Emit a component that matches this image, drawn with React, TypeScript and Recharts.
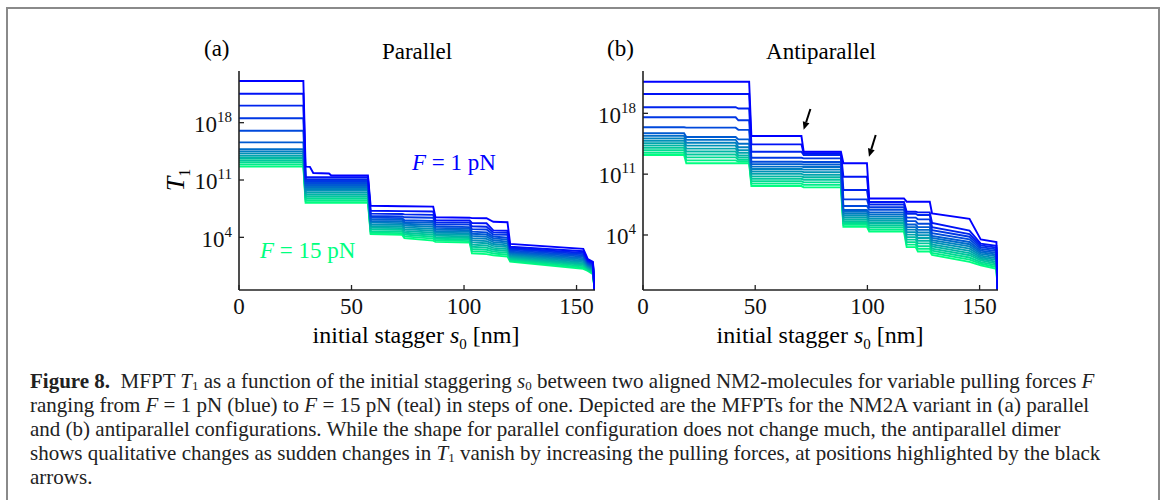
import { LineChart, Line, XAxis, YAxis, ReferenceLine } from "recharts";

// s0 grid (nm) and log10(T1) per pulling force, parallel panel
const S_PAR = [0, 28.6, 29.6, 31.5, 33, 40, 41, 57.3, 58.5, 72.5, 73.5, 86.3, 87.3, 102.5, 103.5, 110, 113, 119.3, 120.5, 153, 155, 157.3, 158];
const PAR_F1 = [23.09, 23.09, 12.63, 12.6, 11.85, 11.8, 11.55, 11.55, 7.85, 7.8, 7.8, 7.75, 6.45, 6.4, 6.35, 6.33, 5.9, 5.85, 3.2, 2.6, 1.35, 1.0, -2.43];
const PAR_F2 = [21.54, 21.54, 11.35, 11.35, 11.35, 11.35, 11.35, 11.35, 7.25, 7.2, 7.2, 7.15, 6.1, 6.05, 5.75, 5.72, 4.85, 4.8, 2.85, 2.3, 1.2, 0.85, -2.43];
const PAR_F3 = [20.08, 20.08, 11.11, 11.11, 11.11, 11.11, 11.11, 11.11, 6.9, 6.85, 6.8, 6.75, 5.85, 5.8, 5.35, 5.3, 4.6, 4.55, 2.7, 2.1, 1.1, 0.75, -2.43];
const PAR_F4 = [18.54, 18.54, 10.87, 10.87, 10.87, 10.87, 10.87, 10.87, 6.6, 6.55, 6.45, 6.4, 5.6, 5.55, 5.0, 4.95, 4.35, 4.3, 2.55, 1.95, 1.0, 0.65, -2.43];
const PAR_F5 = [17.02, 17.02, 10.63, 10.63, 10.63, 10.63, 10.63, 10.63, 6.4, 6.35, 6.1, 6.0, 5.35, 5.25, 4.7, 4.6, 4.1, 3.95, 2.4, 1.8, 0.9, 0.55, -2.43];
const PAR_F6 = [15.6, 15.6, 10.39, 10.39, 10.39, 10.39, 10.39, 10.39, 6.2, 6.15, 5.88, 5.76, 5.16, 5.06, 4.44, 4.34, 3.87, 3.72, 2.26, 1.64, 0.8, 0.45, -2.43];
const PAR_F7 = [14.75, 14.75, 10.15, 10.15, 10.15, 10.15, 10.15, 10.15, 5.99, 5.94, 5.66, 5.52, 4.97, 4.87, 4.17, 4.07, 3.64, 3.49, 2.13, 1.47, 0.7, 0.34, -2.43];
const PAR_F8 = [14.48, 14.48, 9.91, 9.91, 9.91, 9.91, 9.91, 9.91, 5.79, 5.74, 5.44, 5.28, 4.78, 4.68, 3.91, 3.81, 3.41, 3.26, 1.99, 1.31, 0.6, 0.24, -2.43];
const PAR_F9 = [14.22, 14.22, 9.67, 9.67, 9.67, 9.67, 9.67, 9.67, 5.58, 5.53, 5.22, 5.04, 4.59, 4.49, 3.64, 3.54, 3.18, 3.03, 1.85, 1.14, 0.5, 0.13, -2.43];
const PAR_F10 = [13.95, 13.95, 9.43, 9.43, 9.43, 9.43, 9.43, 9.43, 5.38, 5.33, 5.0, 4.8, 4.4, 4.3, 3.38, 3.28, 2.95, 2.8, 1.72, 0.98, 0.4, 0.03, -2.43];
const PAR_F11 = [13.69, 13.69, 9.19, 9.19, 9.19, 9.19, 9.19, 9.19, 5.17, 5.12, 4.78, 4.56, 4.21, 4.11, 3.11, 3.01, 2.72, 2.57, 1.58, 0.81, 0.3, -0.08, -2.43];
const PAR_F12 = [13.42, 13.42, 8.95, 8.95, 8.95, 8.95, 8.95, 8.95, 4.97, 4.92, 4.56, 4.32, 4.02, 3.92, 2.85, 2.75, 2.49, 2.34, 1.44, 0.65, 0.2, -0.19, -2.43];
const PAR_F13 = [13.16, 13.16, 8.71, 8.71, 8.71, 8.71, 8.71, 8.71, 4.76, 4.71, 4.34, 4.08, 3.83, 3.73, 2.58, 2.48, 2.26, 2.11, 1.3, 0.48, 0.1, -0.29, -2.43];
const PAR_F14 = [12.89, 12.89, 8.47, 8.47, 8.47, 8.47, 8.47, 8.47, 4.56, 4.51, 4.12, 3.84, 3.64, 3.54, 2.32, 2.22, 2.03, 1.88, 1.17, 0.32, 0, -0.4, -2.43];
const PAR_F15 = [12.63, 12.63, 8.23, 8.23, 8.23, 8.23, 8.23, 8.23, 4.41, 4.3, 3.9, 3.6, 3.45, 3.35, 2.05, 1.95, 1.8, 1.65, 1.03, 0.15, -0.1, -0.5, -2.43];

// antiparallel panel
const S_ANTI = [0, 18.3, 19.3, 41.3, 42.5, 47.3, 48.3, 70.6, 71.6, 88.2, 89.3, 99.8, 100.8, 116.3, 117.5, 121.5, 122.5, 127.8, 128.8, 145.5, 150.5, 157.5, 158];
const ANTI_F1 = [21.64, 21.64, 21.64, 21.64, 21.64, 21.64, 15.39, 15.39, 13.58, 13.58, 12.25, 12.25, 8.2, 8.2, 7.83, 7.83, 7.83, 7.83, 6.49, 5.85, 3.5, 3.2, -2.33];
const ANTI_F2 = [20.22, 20.22, 20.22, 20.22, 20.22, 20.22, 14.43, 14.43, 13.4, 13.4, 10.7, 10.7, 7.8, 7.8, 6.68, 6.68, 6.6, 6.6, 5.4, 4.5, 3.0, 2.75, -2.33];
const ANTI_F3 = [18.7, 18.7, 18.7, 18.7, 18.55, 18.55, 13.58, 13.58, 13.2, 13.2, 9.17, 9.17, 7.5, 7.5, 6.45, 6.45, 6.3, 6.3, 4.9, 4.1, 2.8, 2.55, -2.33];
const ANTI_F4 = [17.54, 17.54, 17.54, 17.54, 17.2, 17.2, 12.89, 12.89, 12.82, 12.82, 8.1, 8.1, 7.2, 7.2, 6.0, 6.0, 5.8, 5.8, 4.55, 3.8, 2.6, 2.35, -2.33];
const ANTI_F5 = [16.4, 16.4, 16.35, 16.35, 16.1, 16.1, 12.43, 12.43, 12.4, 12.4, 7.33, 7.33, 6.9, 6.9, 5.6, 5.6, 5.3, 5.3, 4.2, 3.5, 2.4, 2.15, -2.33];
const ANTI_F6 = [15.7, 15.7, 15.27, 15.27, 15.0, 15.0, 12.15, 12.15, 12.11, 12.11, 6.87, 6.87, 6.6, 6.6, 5.2, 5.2, 4.9, 4.9, 3.9, 3.2, 2.2, 1.95, -2.33];
const ANTI_F7 = [15.4, 15.4, 14.95, 14.95, 14.5, 14.5, 11.87, 11.87, 11.82, 11.82, 6.66, 6.66, 6.36, 6.36, 4.91, 4.91, 4.59, 4.59, 3.66, 2.94, 2.01, 1.74, -2.33];
const ANTI_F8 = [15.12, 15.12, 14.61, 14.61, 14.1, 14.1, 11.59, 11.59, 11.52, 11.52, 6.44, 6.44, 6.11, 6.11, 4.62, 4.62, 4.28, 4.28, 3.41, 2.69, 1.82, 1.54, -2.33];
const ANTI_F9 = [14.85, 14.85, 14.28, 14.28, 13.75, 13.75, 11.31, 11.31, 11.23, 11.23, 6.23, 6.23, 5.87, 5.87, 4.33, 4.33, 3.97, 3.97, 3.17, 2.43, 1.63, 1.33, -2.33];
const ANTI_F10 = [14.57, 14.57, 13.94, 13.94, 13.45, 13.45, 11.03, 11.03, 10.94, 10.94, 6.02, 6.02, 5.62, 5.62, 4.04, 4.04, 3.66, 3.66, 2.92, 2.18, 1.44, 1.13, -2.33];
const ANTI_F11 = [14.3, 14.3, 13.6, 13.6, 13.15, 13.15, 10.75, 10.75, 10.65, 10.65, 5.8, 5.8, 5.38, 5.38, 3.76, 3.76, 3.34, 3.34, 2.68, 1.92, 1.26, 0.92, -2.33];
const ANTI_F12 = [14.02, 14.02, 13.26, 13.26, 12.9, 12.9, 10.47, 10.47, 10.36, 10.36, 5.59, 5.59, 5.13, 5.13, 3.47, 3.47, 3.03, 3.03, 2.43, 1.67, 1.07, 0.71, -2.33];
const ANTI_F13 = [13.75, 13.75, 12.93, 12.93, 12.65, 12.65, 10.19, 10.19, 10.06, 10.06, 5.38, 5.38, 4.89, 4.89, 3.18, 3.18, 2.72, 2.72, 2.19, 1.41, 0.88, 0.51, -2.33];
const ANTI_F14 = [13.47, 13.47, 12.59, 12.59, 12.45, 12.45, 9.91, 9.91, 9.77, 9.77, 5.16, 5.16, 4.64, 4.64, 2.89, 2.89, 2.41, 2.41, 1.94, 1.16, 0.69, 0.3, -2.33];
const ANTI_F15 = [13.2, 13.2, 12.25, 12.25, 12.25, 12.25, 9.63, 9.63, 9.48, 9.48, 4.95, 4.95, 4.4, 4.4, 2.6, 2.6, 2.1, 2.1, 1.7, 0.9, 0.5, 0.1, -2.33];

const X_TICKS = [0, 50, 100, 150];
const Y_TICKS = [4, 11, 18];

// arrows in (b): [tail, head] in (s0, log10 T1)
const ARROWS = [
  [{ x: 74.6, y: 18.5 }, { x: 71.6, y: 16.1 }],
  [{ x: 103.7, y: 15.5 }, { x: 100.7, y: 13.0 }],
];

// matplotlib "winter", F = 1..15
const COLORS = ["#0000ff", "#0012f6", "#0024ed", "#0037e4", "#0049db", "#005bd1", "#006dc8", "#0080bf", "#0092b6", "#00a4ad", "#00b6a4", "#00c89b", "#00db92", "#00ed89", "#00ff80"];

const SERIF = '"Liberation Serif", "DejaVu Serif", serif';
const INK = "#222";

const PAR = [PAR_F1, PAR_F2, PAR_F3, PAR_F4, PAR_F5, PAR_F6, PAR_F7, PAR_F8, PAR_F9, PAR_F10, PAR_F11, PAR_F12, PAR_F13, PAR_F14, PAR_F15];
const ANTI = [ANTI_F1, ANTI_F2, ANTI_F3, ANTI_F4, ANTI_F5, ANTI_F6, ANTI_F7, ANTI_F8, ANTI_F9, ANTI_F10, ANTI_F11, ANTI_F12, ANTI_F13, ANTI_F14, ANTI_F15];

function buildRows(s: number[], series: number[][]) {
  return s.map((x, i) => {
    const row: Record<string, number> = { s: x };
    series.forEach((vals, k) => {
      row[`f${k + 1}`] = vals[i];
    });
    return row;
  });
}

function XTick({ x, y, payload }: any) {
  return (
    <g>
      <line x1={x} y1={y} x2={x} y2={y - 5} stroke={INK} strokeWidth={1.3} />
      <text x={x} y={y + 8} dy="0.71em" textAnchor="middle" fontSize={23} fontFamily={SERIF} fill="#111">
        {payload.value}
      </text>
    </g>
  );
}

function YTick({ x, y, payload }: any) {
  return (
    <g>
      <line x1={x} y1={y} x2={x + 5} y2={y} stroke={INK} strokeWidth={1.3} />
      <text x={x - 7} y={y} dy="0.4em" textAnchor="end" fontSize={23} fontFamily={SERIF} fill="#111">
        <tspan>10</tspan>
        <tspan dy={-10} fontSize={15}>{payload.value}</tspan>
      </text>
    </g>
  );
}

function Arrow(p: any) {
  const { x1, y1, x2, y2 } = p;
  const dx = x2 - x1;
  const dy = y2 - y1;
  const len = Math.hypot(dx, dy) || 1;
  const ux = dx / len;
  const uy = dy / len;
  const hl = 8;
  const hw = 3.5;
  const bx = x2 - ux * hl;
  const by = y2 - uy * hl;
  return (
    <g>
      <line x1={x1} y1={y1} x2={bx} y2={by} stroke="#000" strokeWidth={2} />
      <polygon points={`${x2},${y2} ${bx - uy * hw},${by + ux * hw} ${bx + uy * hw},${by - ux * hw}`} fill="#000" />
    </g>
  );
}

function Panel({ rows, yDomain, yWidth, width, arrows }: { rows: any[]; yDomain: number[]; yWidth: number; width: number; arrows?: any[] }) {
  return (
    <LineChart width={width} height={290} data={rows} margin={{ top: 11, right: 10, bottom: 30, left: 0 }}>
      <XAxis dataKey="s" type="number" domain={[0, 158.2]} ticks={X_TICKS} allowDataOverflow height={30}
        tickSize={0} tickMargin={0} tickLine={false} tick={<XTick />} axisLine={{ stroke: INK, strokeWidth: 1.6 }} interval={0} />
      <XAxis xAxisId="top" orientation="top" dataKey="s" type="number" domain={[0, 158.2]} height={0}
        tick={false} tickLine={false} axisLine={{ stroke: INK, strokeWidth: 1.6 }} />
      <YAxis type="number" domain={yDomain} ticks={Y_TICKS} allowDataOverflow width={yWidth}
        tickSize={0} tickMargin={0} tickLine={false} tick={<YTick />} axisLine={{ stroke: INK, strokeWidth: 1.6 }} interval={0} />
      <YAxis yAxisId="right" orientation="right" type="number" domain={yDomain} width={0}
        tick={false} tickLine={false} axisLine={{ stroke: INK, strokeWidth: 1.6 }} />
      {COLORS.map((_, i) => {
        const k = COLORS.length - 1 - i;
        return (
          <Line key={k} dataKey={`f${k + 1}`} type="linear" stroke={COLORS[k]} strokeWidth={1.9}
            dot={false} activeDot={false} isAnimationActive={false} />
        );
      })}
      {(arrows || []).map((seg, i) => (
        <ReferenceLine key={i} segment={seg} shape={<Arrow />} ifOverflow="visible" />
      ))}
    </LineChart>
  );
}

const abs = (left: number, top: number, extra: any = {}) => ({ position: "absolute" as const, left, top, fontFamily: SERIF, whiteSpace: "nowrap" as const, ...extra });

export default function App() {
  const parRows = buildRows(S_PAR, PAR);
  const antiRows = buildRows(S_ANTI, ANTI);
  const cap = { fontSize: 21, lineHeight: "24px", height: 24, color: "#222" };
  const sub = { fontSize: 13, lineHeight: 0, verticalAlign: "-2px" };
  return (
    <div style={{ position: "absolute", left: 0, top: 0, width: 1165, height: 500, background: "#fff", overflow: "hidden" }}>
      <div style={{ position: "absolute", left: 6, top: 7, width: 1150, height: 520, border: "2px solid #8a8a8a" }} />

      <div style={abs(160, 60)}>
        <Panel rows={parRows} yDomain={[-2.43, 24.31]} yWidth={79} width={445} />
      </div>
      <div style={abs(565, 60)}>
        <Panel rows={antiRows} yDomain={[-2.33, 22.87]} yWidth={78} width={443} arrows={ARROWS} />
      </div>

      <div style={abs(204, 37, { fontSize: 23, lineHeight: "23px" })}>(a)</div>
      <div style={abs(317, 40, { fontSize: 23, lineHeight: "23px", width: 200, textAlign: "center" })}>Parallel</div>
      <div style={abs(607, 37, { fontSize: 23, lineHeight: "23px" })}>(b)</div>
      <div style={abs(721, 40, { fontSize: 23, lineHeight: "23px", width: 200, textAlign: "center" })}>Antiparallel</div>

      <div style={abs(266, 323, { fontSize: 24, lineHeight: "24px", width: 300, textAlign: "center" })}>
        initial stagger <i>s</i><sub style={{ fontSize: 15, lineHeight: 0 }}>0</sub> [nm]
      </div>
      <div style={abs(670, 323, { fontSize: 24, lineHeight: "24px", width: 300, textAlign: "center" })}>
        initial stagger <i>s</i><sub style={{ fontSize: 15, lineHeight: 0 }}>0</sub> [nm]
      </div>
      <div style={abs(146, 166, { fontSize: 26, lineHeight: "28px", width: 60, textAlign: "center", transform: "rotate(-90deg)" })}>
        <i>T</i><sub style={{ fontSize: 16, lineHeight: 0 }}>1</sub>
      </div>

      <div style={abs(412, 151, { fontSize: 23, lineHeight: "23px", color: COLORS[0] })}>
        <i>F</i> = 1 pN
      </div>
      <div style={abs(260, 239, { fontSize: 23, lineHeight: "23px", color: COLORS[14] })}>
        <i>F</i> = 15 pN
      </div>

      <div style={abs(30, 369, cap)}>
        <b>Figure 8.</b>&nbsp; MFPT <i>T</i><span style={sub}>1</span> as a function of the initial staggering <i>s</i><span style={sub}>0</span> between two aligned NM2-molecules for variable pulling forces <i>F</i>
      </div>
      <div style={abs(30, 393, cap)}>
        ranging from <i>F</i> = 1 pN (blue) to <i>F</i> = 15 pN (teal) in steps of one. Depicted are the MFPTs for the NM2A variant in (a) parallel
      </div>
      <div style={abs(30, 417, cap)}>
        and (b) antiparallel configurations. While the shape for parallel configuration does not change much, the antiparallel dimer
      </div>
      <div style={abs(30, 441, cap)}>
        shows qualitative changes as sudden changes in <i>T</i><span style={sub}>1</span> vanish by increasing the pulling forces, at positions highlighted by the black
      </div>
      <div style={abs(30, 465, cap)}>arrows.</div>
    </div>
  );
}
